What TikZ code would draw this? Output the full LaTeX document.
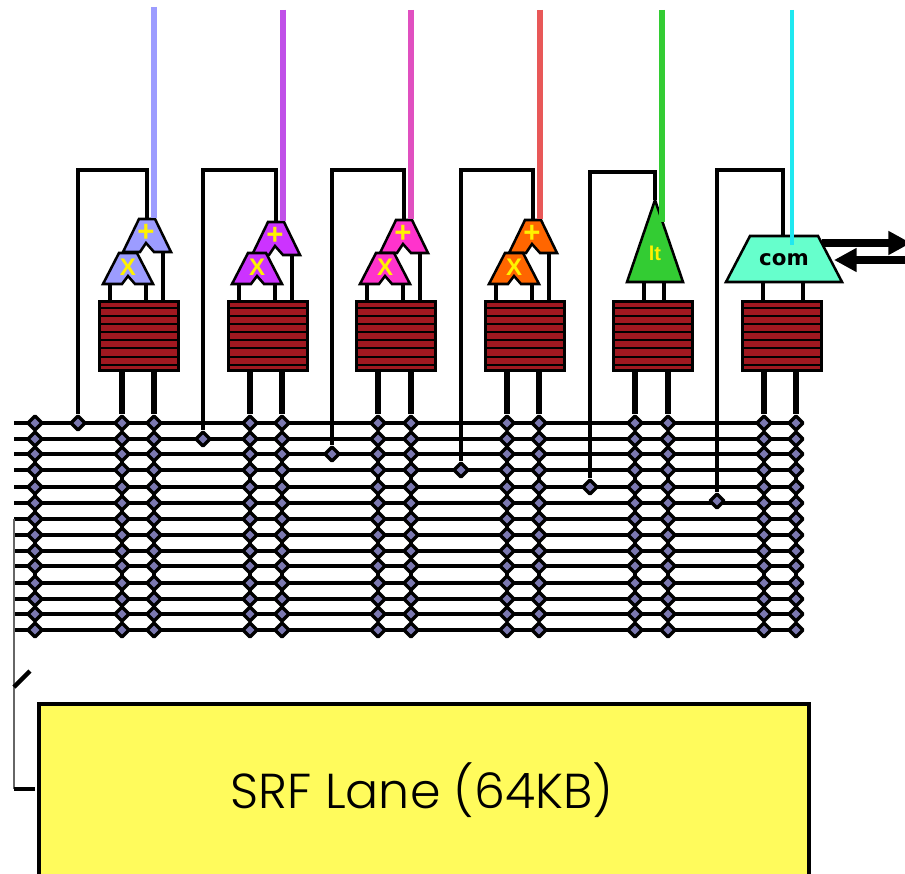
\documentclass[tikz,border=0pt]{standalone}
\usepackage{fontspec}
\setmainfont{Liberation Sans}
\newfontfamily\srffont{Poppins Light}
\newfontfamily\unitfont{DejaVu Sans}
\usetikzlibrary{arrows.meta,backgrounds,shapes.geometric}

\definecolor{srfyellow}{HTML}{FFFB5C}
\definecolor{rfred}{HTML}{A01820}
\definecolor{dotblue}{HTML}{7B78B0}
\definecolor{comgreen}{HTML}{66FFCC}
\definecolor{ltgreen}{HTML}{33CC33}
\definecolor{comwire}{HTML}{20E8F0}

\begin{document}
\begin{tikzpicture}[
        x=0.75pt, y=-0.75pt,
        wire/.style={draw=black, line width=2.6pt},
        bus/.style={draw=black, line width=2.6pt},
        feed/.style={line width=3.8pt},
        unit/.style={draw=black, line width=1.9pt, line join=miter},
        sign/.style={text=yellow, inner sep=0pt},
        rf/.style={draw=black, fill=rfred, line width=1.9pt, minimum width=59pt, minimum height=52pt, inner sep=0pt, outer sep=0pt},
        tap/.style={diamond, draw=black, fill=dotblue, line width=2.5pt, minimum size=11.5pt, inner sep=0pt, line join=round},
        swap/.style={-{Triangle[length=17pt,width=17pt]}, line width=6pt, black}
    ]
        \useasboundingbox (0,0) rectangle (905,873);

        % register files
        \foreach \i/\x in {1/139,2/268,3/396,4/525,5/653,6/782}{
            \node[rf] (rf\i) at (\x,336) {};
            \foreach \s in {308,316,324,332,340,348,357,365}
                \draw[black, line width=1.8pt] (\x-39,\s) -- (\x+39,\s);
        }

        % bus taps
        \foreach \y [count=\r] in {423,439,454,470,487,503,519,535,551,566,583,599,614,630}{
            \coordinate (start\r) at (14,\y);
            \coordinate (end\r) at (800,\y);
            \node[tap] (left\r) at (35,\y) {};
            \foreach \i/\xa/\xb in {1/122/154,2/250/282,3/378/411,4/507/539,5/635/668,6/764/796}{
                \node[tap] (a\i-\r) at (\xa,\y) {};
                \node[tap] (b\i-\r) at (\xb,\y) {};
            }
        }

        % feedback taps
        \node[tap] (loop1) at (78,423) {};
        \node[tap] (loop2) at (203,439) {};
        \node[tap] (loop3) at (332,454) {};
        \node[tap] (loop4) at (461,470) {};
        \node[tap] (loop5) at (590,487) {};
        \node[tap] (loop6) at (717,501) {};

        % add and mul units
        \foreach \i/\dx/\dy/\ty/\col/\wirecol in {1/0/0/7/9C9CFF/9C9CFF,2/129/3/10/CC33FF/C050E8,3/257/1/10/FF33CC/E050C0,4/386/1/10/FF6600/E85858}{
            \definecolor{unitcol}{HTML}{\col}
            \definecolor{linecol}{HTML}{\wirecol}
            \begin{scope}[shift={(\dx,0)}]
                \coordinate (add\i) at (147,219+\dy);
                \coordinate (addin\i) at (163,252+\dy);
                \coordinate (mulinl\i) at (110,284);
                \coordinate (mulinr\i) at (146,284);
                \draw[unit, fill=unitcol] (139,219+\dy) -- (155,219+\dy) -- (171,252+\dy) -- (154,252+\dy)
                    -- (146,243+\dy) -- (140,252+\dy) -- (123,252+\dy) -- cycle;
                \draw[unit, fill=unitcol] (119,253) -- (137,253) -- (153,284) -- (135,284)
                    -- (128,276) -- (122,284) -- (103,284) -- cycle;
                \node[sign, font=\bfseries\fontsize{22pt}{22pt}\selectfont] (plus\i) at (146,233+\dy) {+};
                \node[sign, font=\bfseries\fontsize{18pt}{18pt}\selectfont] (times\i) at (128,267) {X};
                \coordinate (top\i) at (154,\ty);
                \coordinate (topend\i) at (154,218+\dy);
                \draw[line width=3.8pt, linecol] (top\i) -- (topend\i);
            \end{scope}
        }

        % lt unit
        \draw[unit, fill=ltgreen] (655,200) -- (683,282) -- (627,282) -- cycle;
        \node[sign, font=\bfseries\fontsize{15pt}{15pt}\selectfont] (lt) at (655,253) {lt};
        \coordinate (add5) at (655,200);
        \coordinate (ltinl) at (644,282);
        \coordinate (ltinr) at (664,282);
        \coordinate (top5) at (662,10);
        \coordinate (topend5) at (662,222);
        \draw[line width=4.2pt, ltgreen] (top5) -- (topend5);

        % com unit
        \coordinate (add6) at (783,236);
        \coordinate (cominl) at (763,282);
        \coordinate (cominr) at (803,282);
        \draw[unit, fill=comgreen] (750,236) -- (818,236) -- (842,282) -- (726,282) -- cycle;
        \node[font=\unitfont\bfseries\fontsize{16pt}{16pt}\selectfont, inner sep=0pt] (comtext) at (784,260) {com};
        \coordinate (top6) at (792,10);
        \coordinate (topend6) at (792,245);
        \draw[line width=3.6pt, comwire] (top6) -- (topend6);
        \coordinate (swapout) at (911,243);
        \coordinate (swapin) at (905,260);
        \draw[swap] (822,243) -- (swapout);
        \draw[swap] (swapin) -- (834,260);

        % SRF
        \node[draw=black, fill=srfyellow, line width=3pt, minimum width=578pt, minimum height=129pt, inner sep=0pt, outer sep=0pt] (srf) at (424,789.5) {};
        \node[inner sep=0pt, font=\srffont\fontsize{36.8pt}{36.8pt}\selectfont] (srftext) at (422,790) {SRF Lane (64KB)};
        \coordinate (srfin) at (14,789);
        \coordinate (srfport) at (35,789);
        \coordinate (gatebot) at (14,687);
        \coordinate (gatetop) at (30,671);

        % connections
        \begin{scope}[on background layer]
            \foreach \r in {1,...,14}
                \draw[bus] (start\r) -- (end\r);
            \draw[black!60, line width=1.2pt] (start7) -- (srfin);
            \draw[black, line width=3.4pt] (gatebot) -- (gatetop);
            \draw[black, line width=3.6pt] (srfin) -- (srfport);

            \draw[wire] (left1) -- (left14);
            \foreach \i in {1,...,6}{
                \draw[wire] (a\i-1) -- (a\i-14);
                \draw[wire] (b\i-1) -- (b\i-14);
                \draw[wire, feed] (a\i-1) -- (a\i-1 |- rf\i.south);
                \draw[wire, feed] (b\i-1) -- (b\i-1 |- rf\i.south);
            }

            \foreach \i in {1,...,4}{
                \draw[wire] (mulinl\i) -- (mulinl\i |- rf\i.north);
                \draw[wire] (mulinr\i) -- (mulinr\i |- rf\i.north);
                \draw[wire] (addin\i) -- (addin\i |- rf\i.north);
            }
            \draw[wire] (ltinl) -- (ltinl |- rf5.north);
            \draw[wire] (ltinr) -- (ltinr |- rf5.north);
            \draw[wire] (cominl) -- (cominl |- rf6.north);
            \draw[wire] (cominr) -- (cominr |- rf6.north);

            \foreach \i/\y in {1/170,2/170,3/170,4/170,5/172,6/170}{
                \coordinate (looptop\i) at (add\i |- 0,\y);
                \draw[wire] (loop\i) |- (looptop\i) -- (add\i);
            }
        \end{scope}
    \end{tikzpicture}
\end{document}
